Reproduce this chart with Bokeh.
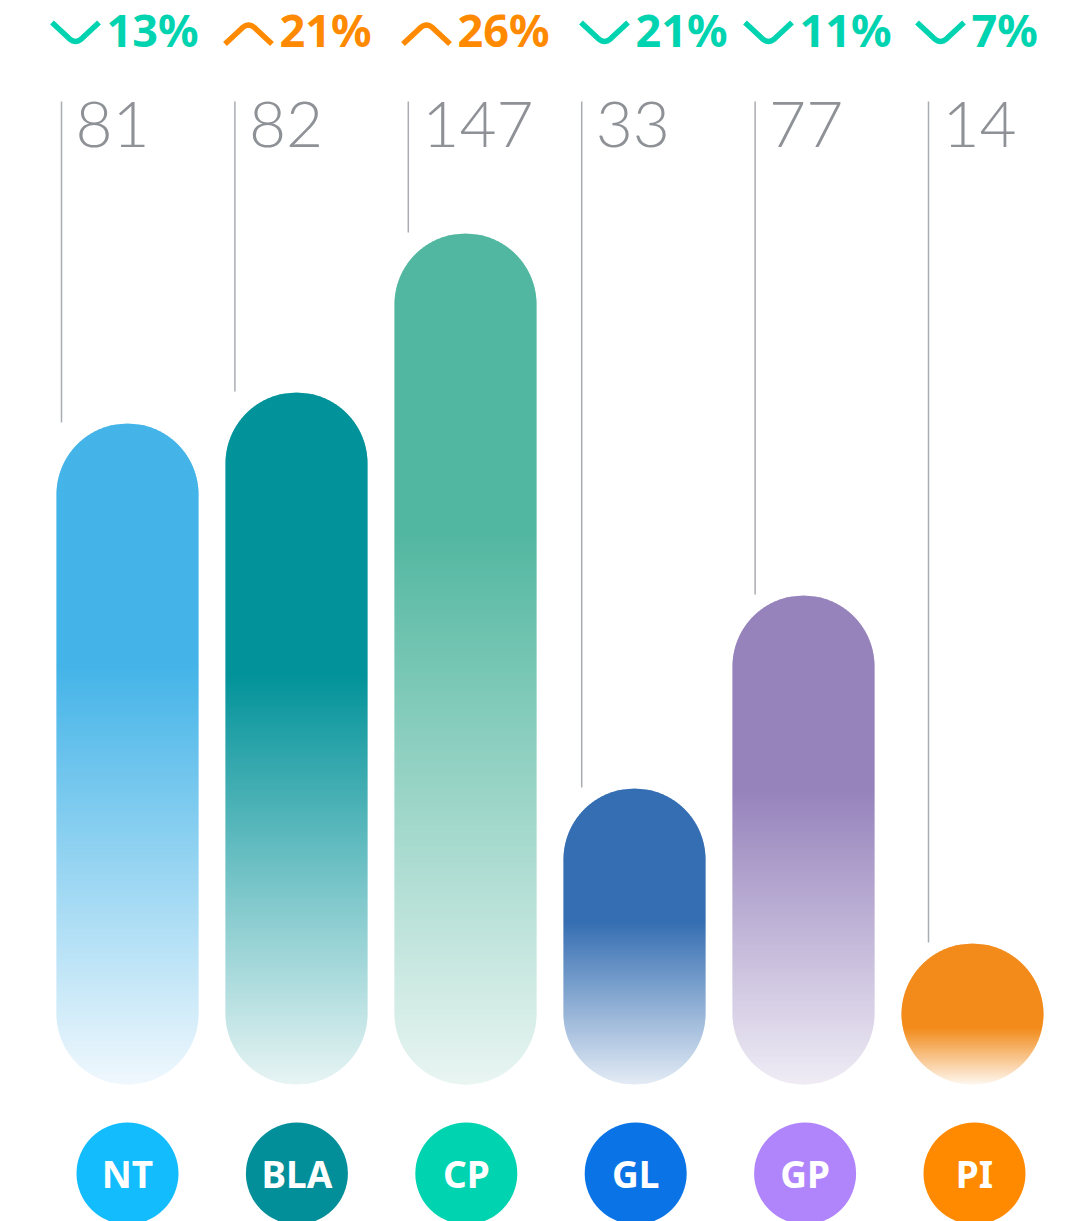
import math
from bokeh.plotting import figure
from bokeh.models import Range1d
from bokeh.core.properties import value
from bokeh.embed import file_html
from bokeh.resources import INLINE

# ---------------- data ----------------
categories = ["NT", "BLA", "CP", "GL", "GP", "PI"]
values = [81, 82, 147, 33, 77, 14]
change_pct = [13, 21, 26, 21, 11, 7]
change_dir = ["down", "up", "up", "down", "down", "down"]
bar_level = [66.1, 69.2, 85.1, 29.6, 48.9, 14.1]   # bar heights as drawn

# ---------------- style ----------------
badge_colors = ["#12bcfd", "#038f99", "#00d3b0", "#0a74e6", "#b085fb", "#ff8a00"]
bar_top_colors = ["#45b4e8", "#03939a", "#52b7a0", "#356eb2", "#9683bc", "#f28b1b"]
bar_end_colors = ["#f0f8fd", "#e7f4f4", "#e9f5f2", "#e3ebf5", "#efecf5", "#fef7ef"]
fade_start = [0.37, 0.41, 0.35, 0.45, 0.40, 0.60]
DOWN_COLOR = "#00d3b0"
UP_COLOR = "#ff8a00"
VALUE_COLOR = "#8e9196"
LINE_COLOR = "#a9acb1"

W, H = 1076, 1221
BASE = 1084      # pixel row of bar bottoms
PX = 10          # pixels per bar level unit
R = 71           # bar half width
n = len(categories)
bar_cx = [127 + 169 * i for i in range(n)]
badge_cx = [127 + 169.4 * i for i in range(n)]
col_x = [61 + 173.4 * i for i in range(n)]
header_x = [49, 222, 400, 578, 742, 914]

PCT_SIZE, VAL_SIZE, BADGE_SIZE = 45, 64, 37
BL = 0.41  # baseline correction factor for svg text


def base_y(target, size):
    return target - BL * size


p = figure(width=W, height=H, x_range=Range1d(0, W), y_range=Range1d(H, 0),
           output_backend="svg", toolbar_location=None,
           x_axis_location=None, y_axis_location=None, min_border=0)
p.grid.visible = False
p.outline_line_color = None
p.background_fill_color = "white"
p.border_fill_color = "white"


def hexrgb(h):
    h = h.lstrip("#")
    return tuple(int(h[i:i + 2], 16) for i in (0, 2, 4))


def mix(c1, c2, t):
    a, b = hexrgb(c1), hexrgb(c2)
    return "#%02x%02x%02x" % tuple(int(round(a[k] + (b[k] - a[k]) * t)) for k in range(3))


def half_width(y, top, bottom):
    if y < top + R:
        d = top + R - y
        return math.sqrt(max(R * R - d * d, 0.0))
    if y > bottom - R:
        d = y - (bottom - R)
        return math.sqrt(max(R * R - d * d, 0.0))
    return R


xs, ys, cols = [], [], []
tops = []
for i in range(n):
    cx = bar_cx[i]
    top = BASE - bar_level[i] * PX
    bottom = BASE
    tops.append(top)
    g = top + fade_start[i] * (bottom - top)
    step = 2.0
    y0 = top
    while y0 < bottom:
        y1 = min(y0 + step + 1.0, bottom)
        ym = y0 + step / 2
        t = 0.0 if ym <= g else min((ym - g) / (bottom - g), 1.0)
        ss = [y0, y0 + (y1 - y0) / 3, y0 + 2 * (y1 - y0) / 3, y1]
        lp = [(cx - half_width(s, top, bottom), s) for s in ss]
        rp = [(cx + half_width(s, top, bottom), s) for s in reversed(ss)]
        pts = lp + rp
        xs.append([q[0] for q in pts])
        ys.append([q[1] for q in pts])
        cols.append(mix(bar_top_colors[i], bar_end_colors[i], t))
        y0 += step

p.patches(xs, ys, fill_color=cols, line_color=None)

# vertical guide lines
p.segment(x0=col_x, y0=[101] * n, x1=col_x, y1=[t - 1 for t in tops],
          line_color=LINE_COLOR, line_width=1.5)

# value labels
p.text(x=[c + 14 for c in col_x], y=[base_y(150, VAL_SIZE)] * n, text=[str(v) for v in values],
       text_font=value("Lato Light"), text_font_size="%dpx" % VAL_SIZE, text_color=VALUE_COLOR,
       text_align="left", text_baseline="alphabetic")


# change headers: chevrons + percentage
def chevron(x0, up):
    ya, yb = (43.5, 21.5) if up else (22.0, 44.0)
    a = (x0 + 2.5, ya)
    v = (x0 + 26.0, yb)
    b = (x0 + 49.5, ya)
    d = 9.0

    def along(p_from, p_to, dist):
        dx, dy = p_to[0] - p_from[0], p_to[1] - p_from[1]
        L = math.hypot(dx, dy)
        return (p_from[0] + dx / L * dist, p_from[1] + dy / L * dist)
    c1 = along(v, a, d)
    c2 = along(v, b, d)
    pts = [a, c1]
    for k in range(1, 10):
        t = k / 10
        x = (1 - t) ** 2 * c1[0] + 2 * (1 - t) * t * v[0] + t * t * c2[0]
        y = (1 - t) ** 2 * c1[1] + 2 * (1 - t) * t * v[1] + t * t * c2[1]
        pts.append((x, y))
    pts += [c2, b]
    return [q[0] for q in pts], [q[1] for q in pts]


cx_list, cy_list, ccol = [], [], []
for i in range(n):
    cxs, cys = chevron(header_x[i], change_dir[i] == "up")
    cx_list.append(cxs)
    cy_list.append(cys)
    ccol.append(DOWN_COLOR if change_dir[i] == "down" else UP_COLOR)
p.multi_line(cx_list, cy_list, line_color=ccol, line_width=5.5, line_join="round", line_cap="butt")

p.text(x=[h + 57 for h in header_x], y=[base_y(47, PCT_SIZE)] * n,
       text=["%d%%" % v for v in change_pct],
       text_font=value("Noto Sans"), text_font_style="bold", text_font_size="%dpx" % PCT_SIZE,
       text_color=ccol, text_align="left", text_baseline="alphabetic")

# category badges
p.circle(x=badge_cx, y=[1173] * n, radius=51, fill_color=badge_colors, line_color=None)
p.text(x=badge_cx, y=[base_y(1188, BADGE_SIZE)] * n, text=categories,
       text_font=value("Noto Sans"), text_font_style="bold", text_font_size="%dpx" % BADGE_SIZE,
       text_color="white", text_align="center", text_baseline="alphabetic")

open("out.html", "w").write(file_html(p, INLINE))
